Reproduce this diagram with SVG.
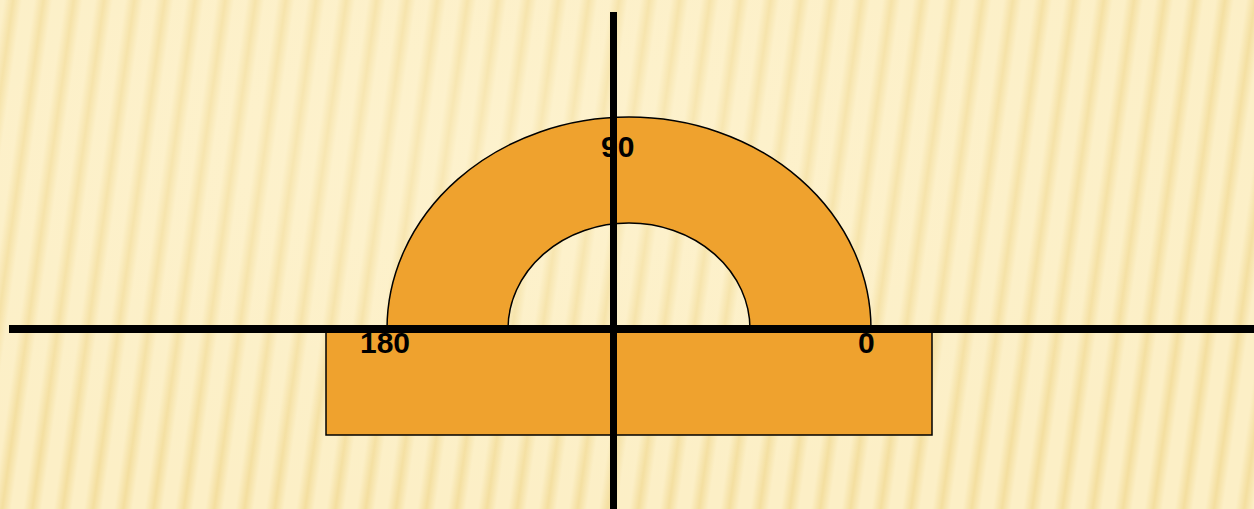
<svg xmlns="http://www.w3.org/2000/svg" width="1254" height="509" viewBox="0 0 1254 509">
  <defs>
    <linearGradient id="stripeGrad" x1="0" y1="0" x2="1" y2="0">
      <stop offset="0" stop-color="#f1d992" stop-opacity="0"/>
      <stop offset="0.5" stop-color="#f1d992" stop-opacity="0.75"/>
      <stop offset="1" stop-color="#f1d992" stop-opacity="0"/>
    </linearGradient>
    <pattern id="stripes" width="30" height="509" patternUnits="userSpaceOnUse" patternTransform="rotate(8)">
      <rect x="0" y="0" width="30" height="509" fill="#fcefc6"/>
      <rect x="4" y="0" width="18" height="509" fill="url(#stripeGrad)"/>
    </pattern>
    <radialGradient id="glow" cx="0.4" cy="0.3" r="0.7">
      <stop offset="0" stop-color="#fff6d8" stop-opacity="0.4"/>
      <stop offset="1" stop-color="#fff6d8" stop-opacity="0"/>
    </radialGradient>
    <style>
      .shape { fill: #efa22e; stroke: #000; stroke-width: 1.5; }
      .axis { stroke: #000; fill: none; }
      .lbl { font-family: "Liberation Sans", Arial, sans-serif; font-weight: bold; font-size: 30px; fill: #000; }
    </style>
  </defs>
  <rect x="0" y="0" width="1254" height="509" fill="url(#stripes)"/>
  <rect x="0" y="0" width="1254" height="509" fill="url(#glow)"/>

  <g id="protractor-base">
    <rect class="shape" x="326" y="329" width="606" height="106"/>
  </g>
  <g id="protractor-arc">
    <path class="shape" d="M 387,329 A 242,212 0 0 1 871,329 L 750,329 A 121,106 0 0 0 508,329 Z"/>
  </g>

  <g id="labels">
    <text class="lbl" x="360" y="353">180</text>
    <text class="lbl" x="858" y="353">0</text>
    <text class="lbl" x="601" y="157">90</text>
  </g>

  <g id="connectors">
    <line class="axis" x1="9" y1="329" x2="1254" y2="329" stroke-width="8"/>
    <line class="axis" x1="613.5" y1="12" x2="613.5" y2="509" stroke-width="7"/>
  </g>
</svg>
